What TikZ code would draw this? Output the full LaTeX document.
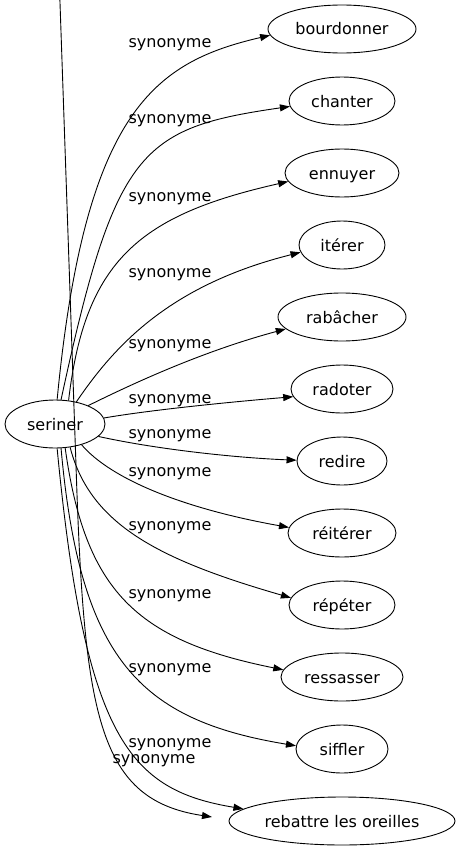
\documentclass[tikz,border=0pt]{standalone}
\usepackage{fontspec}
\setmainfont{DejaVu Sans}
\usetikzlibrary{shapes.geometric,arrows.meta}
\begin{document}
\begin{tikzpicture}[x=1pt,y=-1pt,
  every node/.style={font=\fontsize{16}{19}\selectfont},
  word/.style={ellipse,draw,line width=0.9pt,minimum height=48pt,inner sep=0pt,text height=12pt,text depth=0pt},
  lbl/.style={anchor=base,inner sep=0pt},
  edge/.style={line width=0.9pt,-{Triangle[length=10pt,width=7pt]}}]
\useasboundingbox[fill=white] (0,0) rectangle (460,851);
% nodes
\node[word,minimum width=100pt] (seriner) at (55,424) {seriner};
\node[word,minimum width=148pt] (bourdonner) at (342,29) {bourdonner};
\node[word,minimum width=106pt] (chanter) at (342,101) {chanter};
\node[word,minimum width=114pt] (ennuyer) at (342,173) {ennuyer};
\node[word,minimum width=86pt] (iterer) at (342,245) {itérer};
\node[word,minimum width=128pt] (rabacher) at (342,317) {rabâcher};
\node[word,minimum width=102pt] (radoter) at (342,389) {radoter};
\node[word,minimum width=90pt] (redire) at (342,461) {redire};
\node[word,minimum width=108pt] (reiterer) at (342,533) {réitérer};
\node[word,minimum width=106pt] (repeter) at (342,605) {répéter};
\node[word,minimum width=122pt] (ressasser) at (342,677) {ressasser};
\node[word,minimum width=92pt] (siffler) at (342,749) {siffler};
\node[word,minimum width=226pt] (rebattre) at (342,821) {rebattre les oreilles};
% labels
\node[lbl] (l1) at (170,48) {synonyme};
\node[lbl] (l2) at (170,123) {synonyme};
\node[lbl] (l3) at (170,201) {synonyme};
\node[lbl] (l4) at (170,277) {synonyme};
\node[lbl] (l5) at (170,348) {synonyme};
\node[lbl] (l6) at (170,403) {synonyme};
\node[lbl] (l7) at (170,438) {synonyme};
\node[lbl] (l8) at (170,476) {synonyme};
\node[lbl] (l9) at (170,530) {synonyme};
\node[lbl] (l10) at (170,598) {synonyme};
\node[lbl] (l11) at (170,672) {synonyme};
\node[lbl] (l12) at (170,747) {synonyme};
\node[lbl] (l13) at (154,763) {synonyme};
% edges
\draw[edge] (seriner.85) .. controls (85,110) and (155,62) .. (bourdonner.185);
\draw[edge] (seriner.76) .. controls (115,150) and (140,128) .. (chanter.186);
\draw[edge] (seriner.60) .. controls (85,260) and (140,215) .. (ennuyer.189);
\draw[edge] (seriner.46) .. controls (115,345) and (170,285) .. (iterer.190);
\draw[edge] (seriner.29) .. controls (130,385) and (200,352) .. (rabacher.192);
\draw[edge] (seriner.7) .. controls (150,410) and (230,402) .. (radoter.189);
\draw[edge] (seriner.-16) .. controls (160,450) and (240,458) .. (redire.179);
\draw[edge] (seriner.-38) .. controls (110,478) and (180,508) .. (reiterer.174);
\draw[edge] (seriner.-57) .. controls (90,525) and (160,560) .. (repeter.172);
\draw[edge] (seriner.-67) .. controls (85,590) and (135,640) .. (ressasser.173);
\draw[edge] (seriner.-76) .. controls (80,660) and (140,720) .. (siffler.176);
\draw[edge] (seriner.-85) .. controls (85,740) and (130,790) .. (rebattre.173);
% edge entering from above the frame
\coordinate (gtop) at (59.8,-3);
\coordinate (gbend) at (76.5,480);
\coordinate (gend) at (212,817);
\draw[edge] (gtop) -- (gbend) .. controls (84.7,720) and (100,800) .. (gend);
\end{tikzpicture}
\end{document}
